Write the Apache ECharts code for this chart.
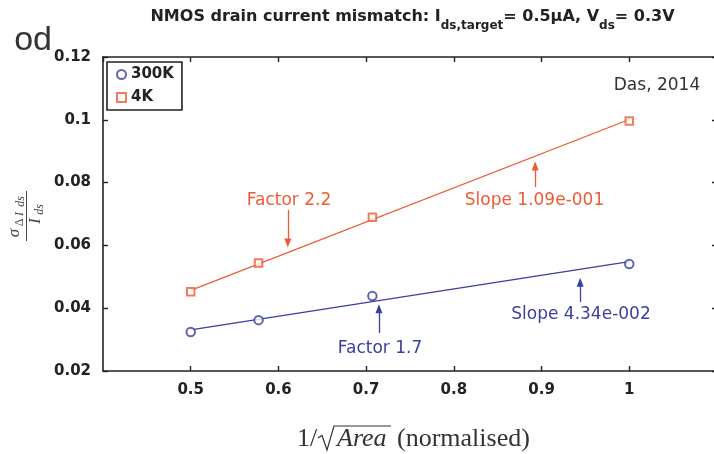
<!DOCTYPE html>
<html><head><meta charset="utf-8">
<script src="https://cdn.jsdelivr.net/npm/echarts@6/dist/echarts.min.js"></script>
<style>html,body{margin:0;padding:0;background:#fff}#c{width:714px;height:454px}</style>
</head><body><div id="c"></div>
<script>
// ---- data ----
const xInvSqrtArea = [0.5, 0.57735, 0.70711, 1.0];
const mismatch300K = [0.0324, 0.0362, 0.0439, 0.0541];
const mismatch4K   = [0.0452, 0.0544, 0.0690, 0.0996];
const fitX   = [0.5, 1.0];
const fit300K = [0.0331, 0.0548];
const fit4K   = [0.0457, 0.1001];
const seriesNames = ['300K', '4K'];
// annotation arrows: [x, yTail, yHead]
const arrows4K   = [[0.6107, 0.0713, 0.0608], [0.8927, 0.0786, 0.0853]];
const arrows300K = [[0.7146, 0.0321, 0.0398], [0.9440, 0.0420, 0.0483]];
const notes4K   = ['Factor 2.2', 'Slope 1.09e-001'];
const notes300K = ['Factor 1.7', 'Slope 4.34e-002'];
const sourceNote = 'Das, 2014';
const titleParts = ['NMOS drain current mismatch: I', 'ds,target', '= 0.5\u03bcA, V', 'ds', '= 0.3V'];
const xNameParts = ['1/', 'Area', '(normalised)'];
const xRange = [0.4, 1.1, 0.1];
const yRange = [0.02, 0.12, 0.02];

const C4K = '#ee5a35', C300 = '#3a409f', INK = '#222';
const SANS = '"DejaVu Sans"', SERIF = '"Liberation Serif"';

const mctx = document.createElement('canvas').getContext('2d');
function tw(t, f) { mctx.font = f; return mctx.measureText(t).width; }
function txt(text, x, baseline, size, font, fill, align, extra) {
  return Object.assign({
    type: 'text', silent: true,
    style: { text: text, x: x, y: baseline - 0.3 * size, font: font, fill: fill,
      align: align || 'left', textAlign: align || 'left',
      verticalAlign: 'middle', textVerticalAlign: 'middle' }
  }, extra || {});
}

// ---- title built from pieces (subscripts) ----
const fMain = 'bold 16px ' + SANS, fSub = 'bold 12px ' + SANS;
const tKinds = ['m', 's', 'm', 's', 'm'];
let tot = 0; titleParts.forEach((p, i) => tot += tw(p, tKinds[i] === 'm' ? fMain : fSub));
let tx = 412.5 - tot / 2;
const titleEls = titleParts.map((p, i) => {
  const isM = tKinds[i] === 'm';
  const el = txt(p, tx, isM ? 22 : 29, isM ? 16 : 12, isM ? fMain : fSub, INK);
  tx += tw(p, isM ? fMain : fSub);
  return el;
});

// ---- x axis name ----
const fX = '26px ' + SERIF, fXi = 'italic 26px ' + SERIF;
const xNameEls = [
  txt(xNameParts[0], 297, 447, 26, fX, '#333'),
  { type: 'polyline', silent: true, shape: { points: [[318, 438], [322, 435.5], [327, 450], [334, 426], [391, 426]] },
    style: { stroke: '#333', lineWidth: 1.2, fill: null } },
  txt(xNameParts[1], 337, 447, 26, fXi, '#333'),
  txt(xNameParts[2], 397, 447, 26, fX, '#333')
];

// ---- y axis name: fraction sigma_{Delta I_ds} / I_ds (rotated) ----
const yNameGroup = {
  type: 'group', x: 26.5, y: 216, rotation: Math.PI / 2, silent: true,
  children: [
    { type: 'line', shape: { x1: -25, y1: 0, x2: 25, y2: 0 }, style: { stroke: '#444', lineWidth: 1 } },
    txt('\u03c3', -17, -7, 17, 'italic 17px ' + SERIF, '#444', 'center'),
    txt('\u0394', -6.5, -3, 12, '12px ' + SERIF, '#444', 'center'),
    txt('I', 2, -3, 12, 'italic 12px ' + SERIF, '#444', 'center'),
    txt('ds', 14.5, -2, 12, 'italic 12px ' + SERIF, '#444', 'center'),
    txt('I', -5, 14, 16, 'italic 16px ' + SERIF, '#444', 'center'),
    txt('ds', 6.5, 16.5, 12, 'italic 12px ' + SERIF, '#444', 'center')
  ]
};

const fNote = '17px ' + SANS;
const noteEls = [
  txt(notes4K[0], 289, 206, 17, fNote, C4K, 'center'),
  txt(notes4K[1], 534.5, 206, 17, fNote, C4K, 'center'),
  txt(notes300K[0], 380, 354, 17, fNote, C300, 'center'),
  txt(notes300K[1], 581, 320, 17, fNote, C300, 'center'),
  txt(sourceNote, 657, 91, 17, fNote, '#333', 'center'),
  txt('od', 52, 51, 34, '34px "Liberation Sans"', '#333', 'right')
];

function axisCommon(extra) {
  return Object.assign({
    type: 'value',
    axisLine: { show: true, onZero: false, lineStyle: { color: INK, width: 1.6 } },
    axisTick: { show: true, inside: true, length: 5, lineStyle: { color: INK, width: 1.4 } },
    splitLine: { show: false },
    axisLabel: { show: false }
  }, extra);
}
const tickLabel = { show: true, margin: 12, fontFamily: SANS, fontWeight: 'bold', fontSize: 15, color: INK };

function arrowLine(arr, color) {
  return {
    silent: true, animation: false, symbol: ['none', 'triangle'], symbolSize: [7, 9],
    lineStyle: { color: color, width: 1.3, type: 'solid' }, label: { show: false },
    emphasis: { disabled: true },
    data: arr.map(a => [{ coord: [a[0], a[1]] }, { coord: [a[0], a[2]] }])
  };
}

const chart = echarts.init(document.getElementById('c'), null, { renderer: 'canvas' });
chart.setOption({
  animation: false,
  backgroundColor: '#fff',
  grid: { left: 103, top: 57, right: -3, bottom: 83, containLabel: false, outerBoundsMode: 'none' },
  xAxis: [
    axisCommon({ position: 'bottom', min: xRange[0], max: xRange[1], interval: xRange[2],
      axisLabel: Object.assign({}, tickLabel, { showMinLabel: false, showMaxLabel: false }) }),
    axisCommon({ position: 'top', min: xRange[0], max: xRange[1], interval: xRange[2] })
  ],
  yAxis: [
    axisCommon({ position: 'left', min: yRange[0], max: yRange[1], interval: yRange[2],
      axisLabel: Object.assign({}, tickLabel) }),
    axisCommon({ position: 'right', min: yRange[0], max: yRange[1], interval: yRange[2] })
  ],
  legend: {
    show: true, orient: 'vertical', left: 107, top: 62, padding: [5, 8, 5, 9],
    itemWidth: 9, itemHeight: 9, itemGap: 8, selectedMode: false,
    borderColor: '#222', borderWidth: 1.6, backgroundColor: '#fff',
    textStyle: { fontFamily: SANS, fontWeight: 'bold', fontSize: 15, color: INK },
    data: [
      { name: seriesNames[0], icon: 'emptyCircle', itemStyle: { color: C300, borderColor: C300, borderWidth: 1.4 } },
      { name: seriesNames[1], icon: 'emptyRect', itemStyle: { color: C4K, borderColor: C4K, borderWidth: 1.4 } }
    ]
  },
  series: [
    { name: seriesNames[0] + ' fit', type: 'line', xAxisIndex: 0, yAxisIndex: 0, symbol: 'none', silent: true,
      lineStyle: { color: C300, width: 1.3 }, z: 2,
      data: fitX.map((x, i) => [x, fit300K[i]]), markLine: arrowLine(arrows300K, C300) },
    { name: seriesNames[1] + ' fit', type: 'line', xAxisIndex: 0, yAxisIndex: 0, symbol: 'none', silent: true,
      lineStyle: { color: C4K, width: 1.3 }, z: 2,
      data: fitX.map((x, i) => [x, fit4K[i]]), markLine: arrowLine(arrows4K, C4K) },
    { name: seriesNames[0], type: 'scatter', symbol: 'emptyCircle', symbolSize: 8.5, z: 3,
      itemStyle: { color: C300, borderColor: C300, borderWidth: 1.5 },
      data: xInvSqrtArea.map((x, i) => [x, mismatch300K[i]]) },
    { name: seriesNames[1], type: 'scatter', symbol: 'emptyRect', symbolSize: 7.5, z: 3,
      itemStyle: { color: C4K, borderColor: C4K, borderWidth: 1.5 },
      data: xInvSqrtArea.map((x, i) => [x, mismatch4K[i]]) }
  ],
  graphic: { elements: [].concat(titleEls, xNameEls, [yNameGroup], noteEls) }
});
</script>
</body></html>
